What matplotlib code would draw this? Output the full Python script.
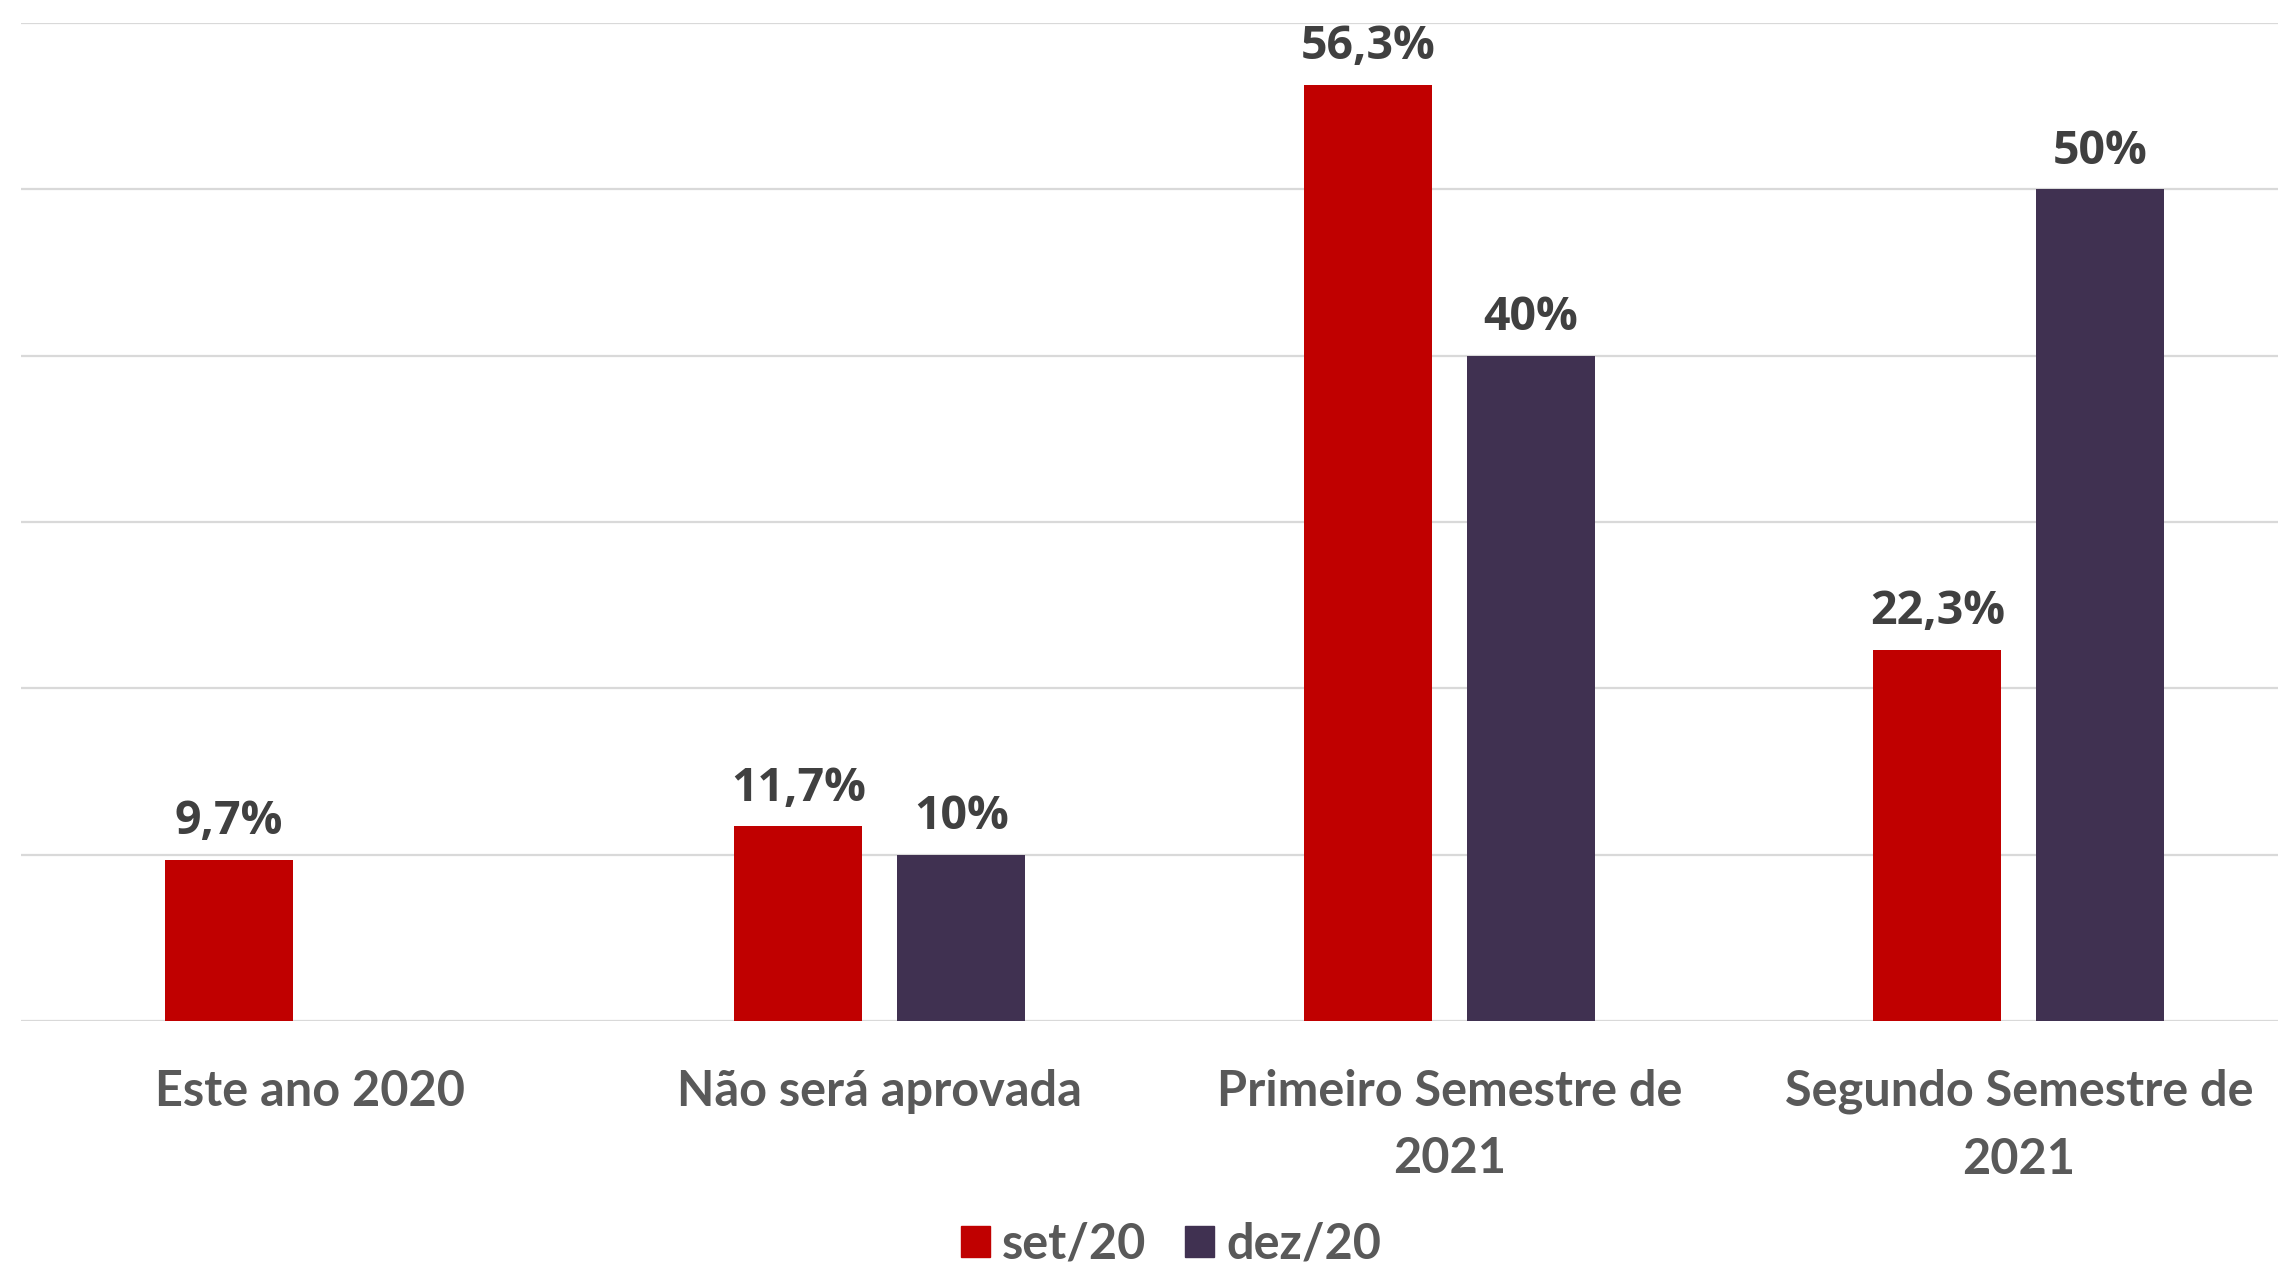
import matplotlib
matplotlib.use("Agg")
import matplotlib.pyplot as plt
from matplotlib.patches import Patch
import numpy as np

# --- data -----------------------------------------------------------------
categories = ["Este ano 2020", "Não será aprovada",
              "Primeiro Semestre de\n2021", "Segundo Semestre de\n2021"]
series_names = ["set/20", "dez/20"]
set20 = [9.7, 11.7, 56.3, 22.3]
dez20 = [np.nan, 10.0, 40.0, 50.0]
set20_labels = ["9,7%", "11,7%", "56,3%", "22,3%"]
dez20_labels = ["", "10%", "40%", "50%"]

RED = "#C00000"
PURPLE = "#403151"
LABEL_COL = "#404040"
CAT_COL = "#595959"
GRID_COL = "#D9D9D9"

W, H, DPI = 2278, 1264, 100
fig = plt.figure(figsize=(W / DPI, H / DPI), dpi=DPI)
# axes runs a bit past the right edge, as in the source image
left_px, right_px, top_px, base_px = 21, 2303, 23, 1021
ax = fig.add_axes([left_px / W, (H - base_px) / H,
                   (right_px - left_px) / W, (base_px - top_px) / H])

x = np.arange(len(categories))
bw = 0.2245
off = 0.143
b1 = ax.bar(x - off, set20, width=bw, color=RED, zorder=3)
b2 = ax.bar(x + off, dez20, width=bw, color=PURPLE, zorder=3)

label_font = {"family": "Open Sans", "weight": "bold", "size": 33.5}
for bars, labels in ((b1, set20_labels), (b2, dez20_labels)):
    for rect, lab in zip(bars, labels):
        if not lab:
            continue
        ax.annotate(lab, (rect.get_x() + rect.get_width() / 2, rect.get_height()),
                    xytext=(0, 10.5), textcoords="offset points",
                    ha="center", va="bottom", color=LABEL_COL, **label_font)

x0 = -0.508
ax.set_xlim(x0, x0 + (right_px - left_px) / 569.5)
ax.set_ylim(0, 60)
ax.set_yticks(np.arange(0, 61, 10))
ax.yaxis.grid(True, color=GRID_COL, lw=1.6, zorder=0)
ax.tick_params(axis="y", left=False, labelleft=False)
for s in ("top", "right", "left", "bottom"):
    ax.spines[s].set_visible(False)

ax.set_xticks(x)
ax.set_xticklabels(categories, family="Lato", weight="bold", fontsize=35,
                   color=CAT_COL, linespacing=1.6)
ax.tick_params(axis="x", bottom=False, pad=31)

handles = [Patch(color=RED, label=series_names[0]),
           Patch(color=PURPLE, label=series_names[1])]
fig.legend(handles=handles, loc="center", bbox_to_anchor=(1171 / W, 1 - 1244 / H),
           ncol=2, frameon=False, handlelength=0.6, handleheight=0.6,
           handletextpad=0.25, columnspacing=0.8,
           prop={"family": "Lato", "weight": "bold", "size": 35},
           labelcolor=CAT_COL)

fig.savefig("out.png", dpi=DPI, facecolor="white")
